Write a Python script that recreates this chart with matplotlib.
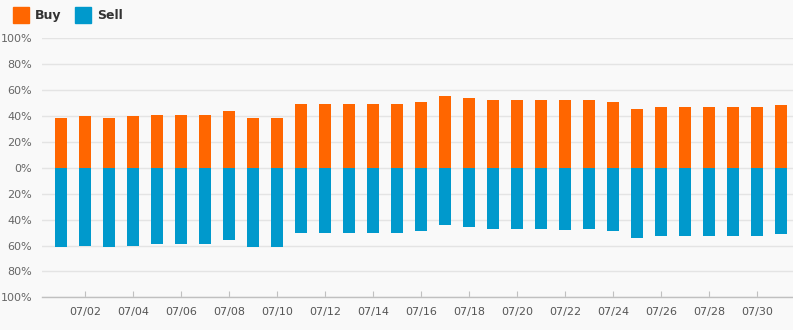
import matplotlib
matplotlib.use("Agg")
import matplotlib.pyplot as plt
import numpy as np
from matplotlib.patches import Patch

dates = [f"07/{d:02d}" for d in range(1, 32)]
buy = [38.5, 40, 38.5, 40, 41, 41, 41, 44, 38.5, 38.5,
       49.5, 49.5, 49.5, 49.5, 49.5, 51, 55.5, 54, 52.5, 52.5,
       52.5, 52, 52.5, 51, 45.5, 47, 47, 47, 47, 47, 48.5]
sell = [61.5, 60, 61.5, 60, 59, 59, 59, 56, 61.5, 61.5,
        50.5, 50.5, 50.5, 50.5, 50.5, 49, 44.5, 46, 47.5, 47.5,
        47.5, 48, 47.5, 49, 54.5, 53, 53, 53, 53, 53, 51.5]
yticks = [100, 80, 60, 40, 20, 0, -20, -40, -60, -80, -100]

BG = "#f9f9f9"
fig = plt.figure(figsize=(7.93, 3.30), dpi=100, facecolor=BG)
ax = fig.add_axes([42/793, 1-297.3/330, 1-42/793, (297.3-38.3)/330])
ax.set_facecolor(BG)

x = np.arange(len(dates))
ax.bar(x, buy, width=0.5, color="#ff6600", zorder=3)
ax.bar(x, [-s for s in sell], width=0.5, color="#0099cc", zorder=3)

ax.set_ylim(-100, 100)
ax.set_xlim(-0.8, len(dates) - 0.5)
ax.set_yticks(yticks)
ax.set_yticklabels([f"{abs(v)}%" for v in yticks])
ax.grid(axis="y", color="#e4e4e4", linewidth=1, zorder=0)
ax.tick_params(axis="y", length=0, labelsize=8, labelcolor="#666666", pad=7)

ax.set_xticks(x[1::2])
ax.set_xticklabels(dates[1::2])
ax.tick_params(axis="x", direction="in", length=4, color="#c0c0c0",
               labelsize=8, labelcolor="#555555", pad=7)

for s in ["top", "right", "left"]:
    ax.spines[s].set_visible(False)
ax.spines["bottom"].set_color("#c0c0c0")
ax.spines["bottom"].set_linewidth(1)

handles = [Patch(color="#ff6600", label="Buy"), Patch(color="#0099cc", label="Sell")]
leg = fig.legend(handles=handles, loc="upper left", bbox_to_anchor=(0.002, 1.012),
                 ncol=2, frameon=False, handlelength=1.3, handleheight=1.5,
                 handletextpad=0.45, columnspacing=1.1,
                 prop={"weight": "bold", "size": 9})
for t in leg.get_texts():
    t.set_color("#333333")

fig.savefig("out.png", dpi=100, facecolor=BG)
